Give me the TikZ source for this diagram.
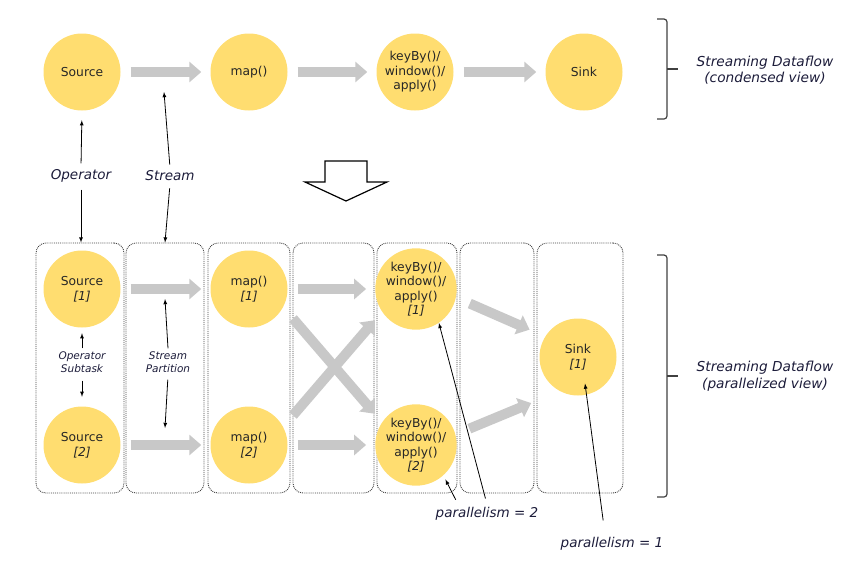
\documentclass[tikz,border=0pt]{standalone}
\usepackage{fontspec}
\setmainfont{DejaVu Sans}
\usetikzlibrary{arrows.meta,calc}
\definecolor{opyellow}{RGB}{255,221,112}
\definecolor{flowgray}{RGB}{200,200,200}
\definecolor{labelink}{RGB}{28,28,58}
\tikzset{
	task/.style={circle, fill=opyellow, minimum size=77pt, inner sep=0pt, align=center, text=black!85, font=\fontsize{12.3}{14.5}\selectfont},
	flow/.style={draw=flowgray, line width=10pt, -{Triangle[length=12pt,width=20pt]}, shorten <=10pt, shorten >=9pt},
	slot/.style={draw=black!75, densely dotted, line width=0.9pt, rounded corners=10pt, minimum height=250pt, inner sep=0pt},
	labeltext/.style={font=\fontsize{13.5}{16}\selectfont\itshape, text=labelink, align=center, inner sep=3pt},
	smalllabel/.style={font=\fontsize{10.5}{13}\selectfont\itshape, text=labelink, align=center, inner sep=3pt},
	bracetext/.style={font=\fontsize{13.7}{16.5}\selectfont\itshape, text=labelink, align=center},
	pointer/.style={-latex, line width=0.8pt},
	bracket/.style={draw=black!75, line width=1.2pt}
}
\begin{document}
\begin{tikzpicture}[x=1pt,y=-1pt]
	\useasboundingbox (0,0) rectangle (863,573);

	\node[task] (src) at (82,72) {Source};
	\node[task] (map) at (249,72) {map()};
	\node[task] (key) at (415,72) {keyBy()/\\window()/\\apply()};
	\node[task] (sink) at (584,72) {Sink};
	\draw[flow] (src) -- (map);
	\draw[flow] (map) -- (key);
	\draw[flow] (key) -- (sink);

	\draw[bracket, rounded corners=3pt] (657,19) -- (667,19) -- (667,119) -- (657,119);
	\draw[bracket] (667,69) -- (678,69);
	\node[bracetext] (condensed) at (765,70) {Streaming Dataflow\\(condensed view)};

	\node[labeltext] (oplab) at (81,176) {Operator};
	\node[labeltext] (strlab) at (170,176) {Stream};
	\coordinate (streamtip) at (164,92);

	\draw[line width=1.2pt, line join=miter] (325,161) -- (367,161) -- (367,182) -- (387,182) -- (346,201) -- (305,182) -- (325,182) -- cycle;

	\node[slot, minimum width=88pt] (b1) at (80,368) {};
	\node[slot, minimum width=78pt] (b2) at (165,368) {};
	\node[slot, minimum width=82pt] (b3) at (249,368) {};
	\node[slot, minimum width=81pt] (b4) at (333.5,368) {};
	\node[slot, minimum width=80pt] (b5) at (417,368) {};
	\node[slot, minimum width=74pt] (b6) at (497,368) {};
	\node[slot, minimum width=86pt] (b7) at (580,368) {};

	\draw[pointer, shorten <=3pt, shorten >=9.5pt] (oplab.north) -- (src.south);
	\draw[pointer, shorten <=4pt] (oplab.south) -- (oplab.south |- b1.north);
	\draw[pointer, shorten <=3pt] (strlab.north) -- (streamtip);
	\draw[pointer, shorten <=4pt] (strlab.south) -- (b2.north);

	\node[task] (src1) at (82,289) {Source\\\textit{[1]}};
	\node[task] (src2) at (82,445) {Source\\\textit{[2]}};
	\node[task] (map1) at (249,289) {map()\\\textit{[1]}};
	\node[task] (map2) at (249,445) {map()\\\textit{[2]}};
	\node[task] (key1) at (416,289) {keyBy()/\\window()/\\apply()\\\textit{[1]}};
	\node[task] (key2) at (416,445) {keyBy()/\\window()/\\apply()\\\textit{[2]}};
	\node[task] (sink1) at (578,357) {Sink\\\textit{[1]}};

	\draw[flow] (src1) -- (map1);
	\draw[flow] (src2) -- (map2);
	\draw[flow] (map1) -- (key1);
	\draw[flow] (map2) -- (key2);
	\draw[flow, shorten <=15pt, shorten >=11pt] (map1.-28) -- (key2.146);
	\draw[flow, shorten <=15pt, shorten >=11pt] (map2.28) -- (key1.214);
	\draw[flow, shorten <=15pt, shorten >=17pt] (key1.-12) -- (sink1.148);
	\draw[flow, shorten <=15pt, shorten >=31pt] (key2.15) -- (sink1.-118);

	\node[smalllabel] (sublab) at (82,362) {Operator\\Subtask};
	\node[smalllabel] (partlab) at (168,362) {Stream\\Partition};
	\coordinate (parttop) at (165,299);
	\coordinate (partbot) at (165,428);
	\draw[pointer, shorten >=5.5pt] (sublab.north) -- (src1.south);
	\draw[pointer, shorten <=5pt, shorten >=9.5pt] (sublab.south) -- (src2.north);
	\draw[pointer] (partlab.north) -- (parttop);
	\draw[pointer, shorten <=4pt] (partlab.south) -- (partbot);

	\node[labeltext] (par2) at (487,514) {parallelism = 2};
	\node[labeltext] (par1) at (612,544) {parallelism = 1};
	\draw[pointer, shorten <=6pt] (par2.north) -- (key1.-56);
	\draw[pointer, shorten <=5pt, shorten >=4.5pt] ([xshift=-29pt]par2.north) -- (key2.-48);
	\draw[pointer, shorten <=14pt] ([xshift=-7pt]par1.north) -- ([xshift=7pt,yshift=-26.5pt]sink1.center);

	\draw[bracket, rounded corners=3pt] (657,255) -- (667,255) -- (667,497) -- (657,497);
	\draw[bracket] (667,376) -- (678,376);
	\node[bracetext] (parallel) at (765,376) {Streaming Dataflow\\(parallelized view)};
\end{tikzpicture}
\end{document}
